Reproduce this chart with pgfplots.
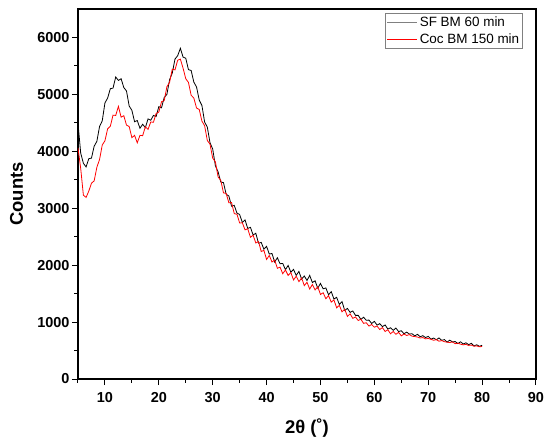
\documentclass[border=0pt]{standalone}
\usepackage{fontspec}
\setmainfont{Liberation Sans}
\usepackage{pgfplots}
\pgfplotsset{compat=1.18}
\usepackage{pgfplotstable}

\pgfplotstableread{
x y
5.0 4495
5.5 3970
6.0 3790
6.5 3725
7.0 3870
7.5 3880
8.0 4090
8.5 4175
9.0 4435
9.5 4535
10.0 4850
10.5 4935
11.0 5100
11.5 5110
12.0 5305
12.5 5245
13.0 5275
13.5 5120
14.0 5060
14.5 4795
15.0 4720
15.5 4520
16.0 4540
16.5 4405
17.0 4475
17.5 4415
18.0 4570
18.5 4545
19.0 4630
19.5 4610
20.0 4785
20.5 4765
21.0 4945
21.5 5000
22.0 5260
22.5 5375
23.0 5620
23.5 5680
24.0 5810
24.5 5655
25.0 5635
25.5 5435
26.0 5420
26.5 5215
27.0 5130
27.5 4900
28.0 4805
28.5 4515
29.0 4425
29.5 4150
30.0 4040
30.5 3745
31.0 3640
31.5 3460
32.0 3450
32.5 3245
33.0 3215
33.5 3035
34.0 3050
34.5 2915
35.0 2890
35.5 2750
36.0 2795
36.5 2645
37.0 2665
37.5 2530
38.0 2560
38.5 2385
39.0 2400
39.5 2280
40.0 2330
40.5 2195
41.0 2205
41.5 2055
42.0 2130
42.5 2025
43.0 2030
43.5 1920
44.0 1995
44.5 1875
45.0 1925
45.5 1820
46.0 1890
46.5 1755
47.0 1810
47.5 1730
48.0 1820
48.5 1695
49.0 1725
49.5 1595
50.0 1680
50.5 1585
51.0 1600
51.5 1480
52.0 1535
52.5 1405
53.0 1435
53.5 1310
54.0 1360
54.5 1205
55.0 1240
55.5 1170
56.0 1195
56.5 1118
57.0 1118
57.5 1048
58.0 1085
58.5 1032
59.0 1035
59.5 975
60.0 1013
60.5 947
61.0 972
61.5 920
62.0 950
62.5 877
63.0 900
63.5 855
64.0 895
64.5 833
65.0 848
65.5 795
66.0 823
66.5 790
67.0 795
67.5 757
68.0 785
68.5 743
69.0 761
69.5 727
70.0 749
70.5 701
71.0 719
71.5 690
72.0 721
72.5 679
73.0 692
73.5 649
74.0 682
74.5 651
75.0 658
75.5 623
76.0 653
76.5 615
77.0 636
77.5 603
78.0 627
78.5 581
79.0 601
79.5 574
80.0 592
}\sfdata

\pgfplotstableread{
x y
5.0 4060
5.5 3700
6.0 3230
6.5 3190
7.0 3300
7.5 3440
8.0 3480
8.5 3720
9.0 3855
9.5 4110
10.0 4185
10.5 4395
11.0 4440
11.5 4635
12.0 4630
12.5 4790
13.0 4600
13.5 4625
14.0 4460
14.5 4435
15.0 4240
15.5 4280
16.0 4150
16.5 4280
17.0 4275
17.5 4430
18.0 4385
18.5 4515
19.0 4510
19.5 4665
20.0 4690
20.5 4870
21.0 4890
21.5 5135
22.0 5210
22.5 5445
23.0 5430
23.5 5600
24.0 5620
24.5 5460
25.0 5275
25.5 5210
26.0 4985
26.5 4935
27.0 4760
27.5 4735
28.0 4530
28.5 4450
29.0 4190
29.5 4125
30.0 3880
30.5 3815
31.0 3550
31.5 3490
32.0 3270
32.5 3260
33.0 3095
33.5 3100
34.0 2905
34.5 2895
35.0 2740
35.5 2745
36.0 2620
36.5 2640
37.0 2490
37.5 2525
38.0 2390
38.5 2415
39.0 2240
39.5 2260
40.0 2100
40.5 2170
41.0 2055
41.5 2090
42.0 1945
42.5 1965
43.0 1850
43.5 1915
44.0 1820
44.5 1870
45.0 1740
45.5 1805
46.0 1710
46.5 1775
47.0 1640
47.5 1700
48.0 1580
48.5 1660
49.0 1565
49.5 1620
50.0 1485
50.5 1515
51.0 1410
51.5 1465
52.0 1350
52.5 1390
53.0 1250
53.5 1295
54.0 1180
54.5 1225
55.0 1100
55.5 1145
56.0 1065
56.5 1090
57.0 1028
57.5 1050
58.0 978
58.5 988
59.0 930
59.5 958
60.0 910
60.5 930
61.0 870
61.5 903
62.0 835
62.5 865
63.0 795
63.5 835
64.0 785
64.5 820
65.0 758
65.5 790
66.0 765
66.5 780
67.0 752
67.5 745
68.0 738
68.5 720
69.0 728
69.5 705
70.0 712
70.5 698
71.0 680
71.5 692
72.0 664
72.5 675
73.0 655
73.5 648
74.0 640
74.5 652
75.0 620
75.5 630
76.0 612
76.5 600
77.0 608
77.5 590
78.0 596
78.5 575
79.0 582
79.5 565
80.0 572
}\cocdata

\begin{document}
\begin{tikzpicture}
\begin{axis}[
  at={(0,0)}, anchor=south west,
  width=458bp, height=370bp, scale only axis,
  xmin=5, xmax=90, ymin=0, ymax=6500,
  xtick={10,20,...,90}, ytick={0,1000,...,6000},
  minor xtick={5,15,...,85}, minor ytick={500,1500,...,5500},
  xtick pos=bottom, ytick pos=left,
  tick align=outside,
  major tick length=6bp, minor tick length=3.5bp,
  every tick/.style={black, line width=1bp},
  axis line style={black, line width=1.1bp},
  /pgf/number format/assume math mode=true,
  /pgf/number format/1000 sep={},
  ticklabel style={font=\bfseries\fontsize{14.5}{17}\selectfont},
  xticklabel style={yshift=-4bp},
  yticklabel style={xshift=1bp},
  xlabel={2θ (˚)}, ylabel={Counts},
  label style={font=\bfseries\fontsize{18.5}{22}\selectfont},
  xlabel style={at={(axis description cs:0.5,-0.1324)}, anchor=center},
  ylabel style={at={(axis description cs:-0.1343,0.5)}, anchor=center},
  legend cell align=left,
  legend style={at={(rel axis cs:0.9716,0.989)}, anchor=north east,
    draw=gray, line width=0.6bp, font=\fontsize{13.5}{16}\selectfont,
    inner sep=1.5bp, row sep=1.5bp},
]
\addplot[black, line width=0.8bp,
  legend image code/.code={\draw[gray, line width=0.8bp] (0bp,0bp) -- (30bp,0bp);}]
  table[x=x,y=y]{\sfdata};
\addlegendentry{SF BM 60 min}
\addplot[red, line width=0.8bp,
  legend image code/.code={\draw[red, line width=0.8bp] (0bp,0bp) -- (30bp,0bp);}]
  table[x=x,y=y]{\cocdata};
\addlegendentry{Coc BM 150 min}
\end{axis}
\pgfresetboundingbox
\path[use as bounding box] (-78bp,-64bp) rectangle (472bp,379bp);
\end{tikzpicture}
\end{document}
